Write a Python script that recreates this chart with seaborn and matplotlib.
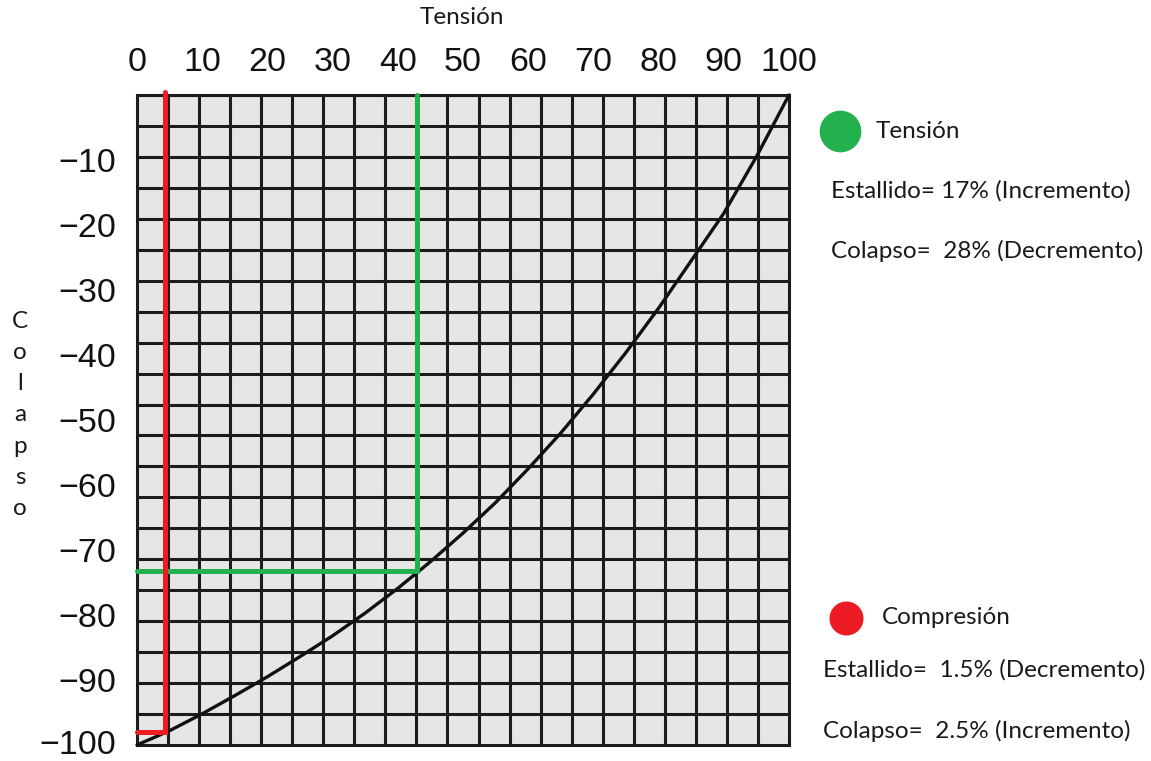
import numpy as np
import pandas as pd
import matplotlib.pyplot as plt
import matplotlib.transforms as mtransforms
from matplotlib.lines import Line2D
import seaborn as sns

# ==========================================
# DATA
# ==========================================
# biaxial curve: axial tension (%) vs collapse (%)
curve_x = [0, 5, 10, 15, 20, 25, 30, 35, 40, 45, 50,
           55, 60, 65, 70, 75, 80, 85, 90, 95, 100]
curve_y = [-100, -97.8, -95.2, -92.4, -89.5, -86.4, -83.2, -79.7, -75.9, -71.8, -67.4,
           -62.7, -57.5, -52.0, -46.0, -39.6, -32.8, -25.5, -18.2, -9.5, 0]

# reading lines
tension_x, tension_y = 43.0, -73.3
compression_x, compression_y = 4.3, -98.0

x_ticks = [0, 10, 20, 30, 40, 50, 60, 70, 80, 90, 100]
y_ticks = [-10, -20, -30, -40, -50, -60, -70, -80, -90, -100]
y_labels = ["\u221210", "\u221220", "\u221230", "\u221240", "\u221250",
            "\u221260", "\u221270", "\u221280", "\u221290", "\u2212100"]

tension_notes = ["Estallido= 17% (Incremento)", "Colapso=  28% (Decremento)"]
compression_notes = ["Estallido=  1.5% (Decremento)", "Colapso=  2.5% (Incremento)"]

GREEN = "#22b14c"
RED = "#ed1c24"
TEXT = "#1a1a1a"

# ==========================================
# PLOT
# ==========================================
sns.set_theme(style="white")
plt.rcParams["font.family"] = ["Liberation Sans", "DejaVu Sans"]

W, H = 1151, 761
fig = plt.figure(figsize=(W / 100, H / 100), dpi=100)
ax = fig.add_axes([137 / W, 1 - 745 / H, 652 / W, 650 / H])
ax.set_facecolor("#e6e6e6")

# 21 x 21 grid of the chart paper
ax.set_xticks(np.linspace(0, 100, 22), minor=True)
ax.set_yticks(np.linspace(-100, 0, 22), minor=True)
ax.grid(which="minor", color="#1c1c1c", linewidth=2.2)
ax.grid(which="major", visible=False)
ax.set_axisbelow(True)

df = pd.DataFrame({"x": curve_x, "y": curve_y})
sns.lineplot(data=df, x="x", y="y", ax=ax, color="#111111", linewidth=2.4,
             sort=False, zorder=3)

# tension reading (green)
sns.lineplot(x=[tension_x, tension_x, 0], y=[0, tension_y, tension_y], ax=ax,
             color=GREEN, linewidth=3.6, sort=False, estimator=None, zorder=4)
# compression reading (red)
sns.lineplot(x=[compression_x, compression_x, 0], y=[0.5, compression_y, compression_y],
             ax=ax, color=RED, linewidth=3.6, sort=False, estimator=None, zorder=5)
for ln in ax.lines:
    ln.set_clip_on(False)
    ln.set_solid_joinstyle("miter")

ax.set_xlim(0, 100)
ax.set_ylim(-100, 0)
ax.xaxis.tick_top()
ax.set_xticks(x_ticks)
ax.set_xticklabels([str(v) for v in x_ticks])
ax.set_yticks(y_ticks)
ax.set_yticklabels(y_labels)
ax.tick_params(axis="x", which="major", length=0, pad=12, labelsize=24.5, colors="#111111")
ax.tick_params(axis="y", which="major", length=0, pad=15, labelsize=24.5, colors="#111111")
ax.tick_params(which="minor", length=0)
ax.set_xlabel("")
ax.set_ylabel("")
for s in ax.spines.values():
    s.set_color("#1c1c1c")
    s.set_linewidth(2.2)

# keep the bottom label inside the canvas
last = ax.get_yticklabels()[-1]
last.set_transform(last.get_transform() +
                   mtransforms.ScaledTranslation(0, 3 / 100, fig.dpi_scale_trans))

# titles
tfont = dict(family=["Lato", "DejaVu Sans"], fontsize=17.5, color=TEXT)
fig.text(462 / W, 1 - 18 / H, "Tensión", ha="center", va="center", **tfont)
for i, ch in enumerate("Colapso"):
    fig.text(20 / W, 1 - (321 + i * 31.3) / H, ch, ha="center", va="center", **tfont)

# side notes
fig.add_artist(Line2D([840 / W], [1 - 131 / H], marker="o", markersize=29,
                      color=GREEN, transform=fig.transFigure))
fig.text(876 / W, 1 - 131 / H, "Tensión", ha="left", va="center", **tfont)
fig.text(831 / W, 1 - 191 / H, tension_notes[0], ha="left", va="center", **tfont)
fig.text(831 / W, 1 - 251 / H, tension_notes[1], ha="left", va="center", **tfont)

fig.add_artist(Line2D([846 / W], [1 - 618 / H], marker="o", markersize=23.5,
                      color=RED, transform=fig.transFigure))
fig.text(882 / W, 1 - 617 / H, "Compresión", ha="left", va="center", **tfont)
fig.text(823 / W, 1 - 670 / H, compression_notes[0], ha="left", va="center", **tfont)
fig.text(823 / W, 1 - 731 / H, compression_notes[1], ha="left", va="center", **tfont)

fig.savefig("out.png", dpi=100, facecolor="white")
